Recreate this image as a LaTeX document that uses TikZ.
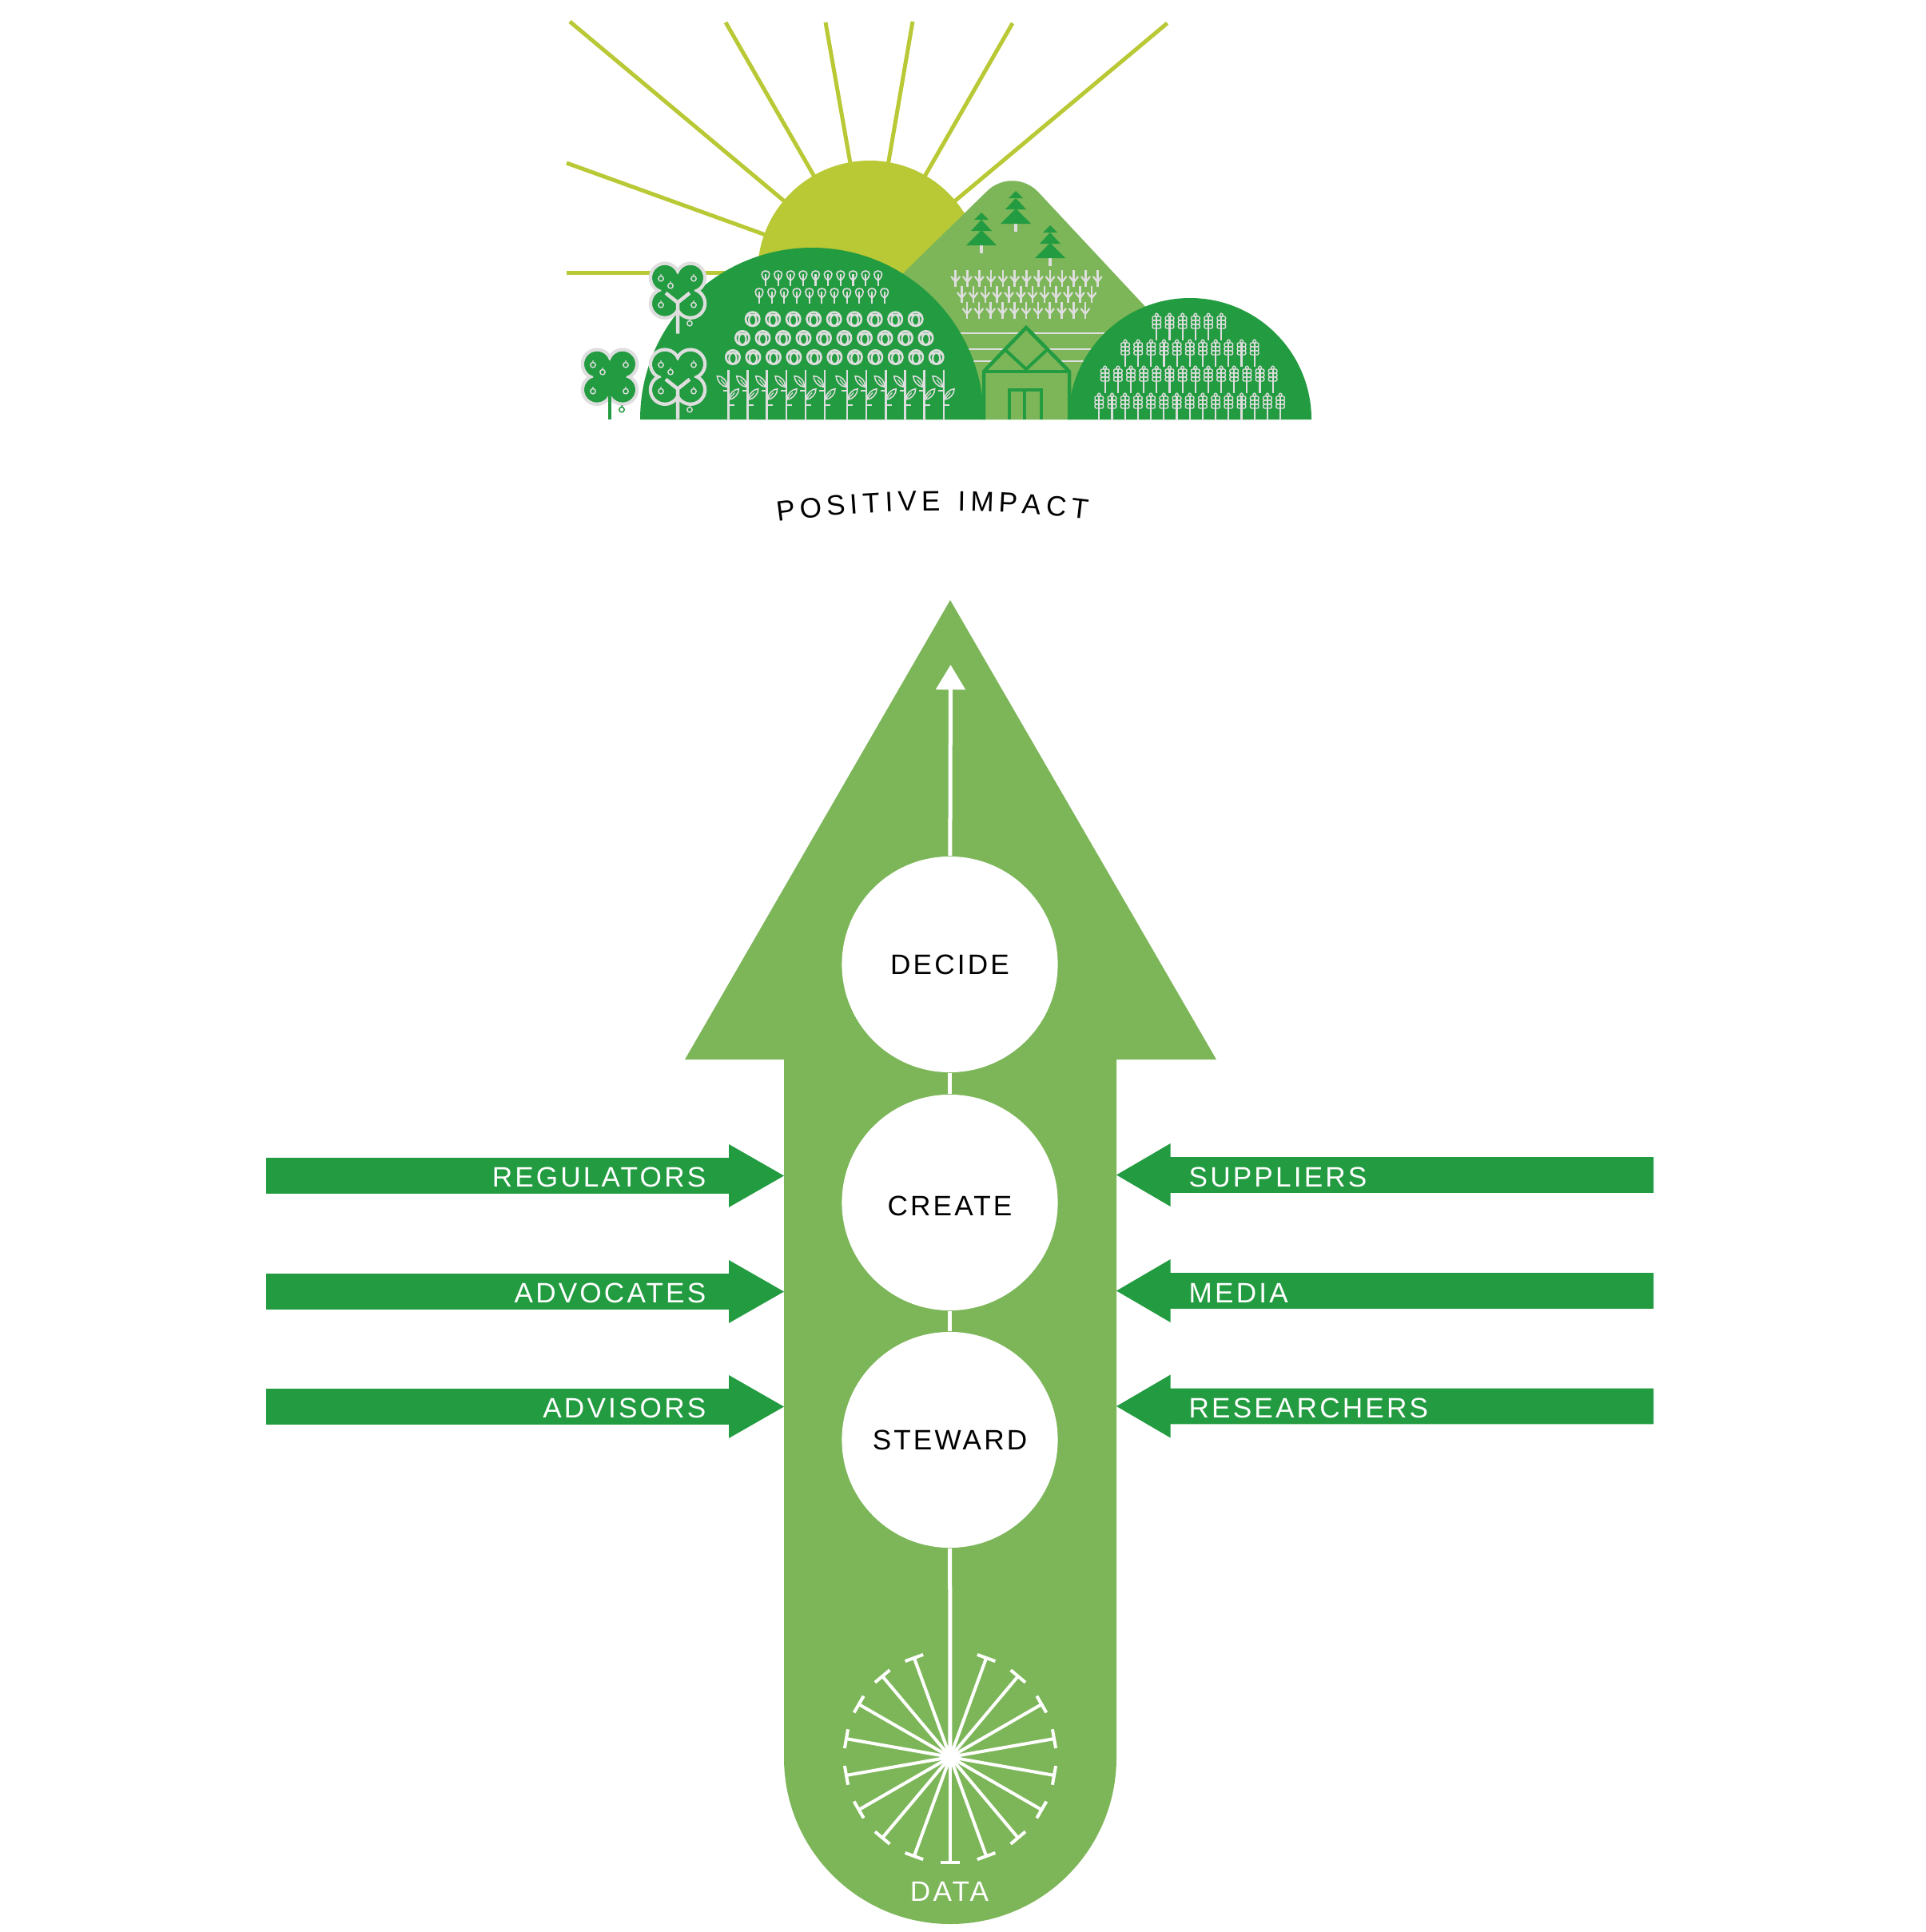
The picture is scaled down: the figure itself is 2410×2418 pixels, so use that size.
\documentclass[tikz,border=0pt]{standalone}
\usepackage{fontspec}
\setmainfont{Liberation Sans}
\newfontfamily\tagfont[LetterSpace=9]{Liberation Sans}
\usetikzlibrary{arrows.meta}
\usetikzlibrary{decorations.text}
\definecolor{leafgreen}{RGB}{125,182,89}
\definecolor{darkgreen}{RGB}{35,155,64}
\definecolor{olive}{RGB}{185,200,53}
\definecolor{pale}{RGB}{222,222,222}
\tikzset{
  wire/.style={white,line width=.05cm},
  ray/.style={olive,line width=.05cm},
  ink/.style={pale,line width=.022cm},
  arrowtag/.style={white,font=\fontsize{10}{12}\selectfont\tagfont,inner sep=0pt},
  stage/.style={circle,fill=white,minimum size=2.7cm,inner sep=0pt,font=\fontsize{10}{12}\selectfont\tagfont},
  lolly/.pic={
    \draw[ink,line width=.016cm] (0,12) .. controls (-7,7) and (-6,0) .. (0,0) .. controls (6,0) and (7,7) .. (0,12);
    \draw[ink] (0,4) -- (0,19);
  },
  cabbage/.pic={
    \draw[ink,line width=.026cm] (0,0) circle (8.7);
    \draw[ink] (0,1.5) ellipse (4.6 and 6.8);
    \draw[ink] (-8,-3) .. controls (-5,-6.5) and (5,-6.5) .. (8,-3);
  },
  corn/.pic={
    \draw[ink,line width=.028cm] (0,0) -- (0,62.7);
    \draw[ink,line width=.02cm] (-6.7,26) -- (0,26) (0,43.7) -- (7.3,43.7);
    \draw[ink,line width=.015cm] (-1.7,21.3) .. controls (-1,13) and (-8,7) .. (-14,7.7) .. controls (-14,14) and (-8,21) .. cycle;
    \draw[ink,line width=.015cm] (.7,37) .. controls (1,30) and (7,24) .. (13,23.7) .. controls (13.5,30) and (7,37) .. cycle;
    \draw[ink,line width=.012cm] (-1.7,21.3) -- (-9,12) (.7,37) -- (8,28.5);
  },
  wheat/.pic={
    \draw[ink] (0,4) -- (0,33.5);
    \draw[ink,line width=.014cm] (0,0) .. controls (2.6,1.5) and (2.6,3.5) .. (0,5) .. controls (-2.6,3.5) and (-2.6,1.5) .. (0,0);
    \foreach \k in {0,1,2} {
      \draw[ink,line width=.014cm,rounded corners=.02cm] (-5.3,{4+5*\k}) rectangle (5.3,{9+5*\k});
    }
  },
  sprout/.pic={
    \draw[ink,line width=.026cm] (0,0) -- (0,21);
    \draw[ink,line width=.022cm] (-5.5,8) -- (0,15) -- (5.5,8);
  },
  pine/.pic={
    \fill[pale] (-2,41) rectangle (2,51);
    \fill[darkgreen] (0,0) -- (-9,9) -- (9,9) -- cycle;
    \fill[darkgreen] (0,9) -- (-13,23) -- (13,23) -- cycle;
    \fill[darkgreen] (0,22) -- (-19,41) -- (19,41) -- cycle;
  },
  clover/.pic={
    \foreach \u/\v in {-16/-16,16/-16,-16/16,16/16} {
      \draw[pale,fill=darkgreen,line width=.045cm] (\u,\v) circle (18);
    }
    \foreach \u/\v in {-16/-16,16/-16,-16/16,16/16} {
      \fill[darkgreen] (\u,\v) circle (15.8);
    }
    \fill[darkgreen] (0,-21) -- (21,0) -- (0,21) -- (-21,0) -- cycle;
    \foreach \u/\v in {-21/-15,20/-15,-9/-6,-21/18,20/18} {
      \draw[ink,line width=.014cm] (\u,\v) circle (3.2) (\u,\v-3.2) -- (\u,\v-5.5);
    }
  },
  clovery/.pic={
    \draw[pale,line width=.045cm] (-15,3) -- (0,15) -- (15,3) (0,15) -- (0,#1);
    \draw[ink,line width=.014cm] (15,41) circle (3.2) (15,37.8) -- (15,35.5);
  },
}
\begin{document}
\begin{tikzpicture}[x=.01cm,y=-.01cm]
  \useasboundingbox (0,0) rectangle (2410,2418);
  % sun
  \coordinate (sun) at (1088,341);
  \foreach \x/\y in {713/27,908/28,1033/28,1142/27,1267/29,1460.6/29,709/204,709/341} {
    \draw[ray] (sun) -- (\x,\y);
  }
  \fill[olive] (sun) circle (140);
  % mountain
  \fill[leafgreen] (943,525) [rounded corners=.46cm] -- (1268,207) [sharp corners] -- (1565,525) -- cycle;
  \foreach \y in {417,437,452} {
    \draw[pale,line width=.025cm] (1190,\y) -- (1400,\y);
  }
  \pic at (1228,266) {pine};
  \pic at (1271,239) {pine};
  \pic at (1314,282) {pine};
  \foreach \i in {0,...,12} { \pic at ({1195.7+14.8*\i},338) {sprout}; }
  \foreach \i in {0,...,11} { \pic at ({1203.3+14.8*\i},358) {sprout}; }
  \foreach \i in {0,...,10} { \pic at ({1210+14.8*\i},378) {sprout}; }
  % hills
  \fill[darkgreen] (801,525) arc (180:360:215) -- cycle;
  \fill[darkgreen] (1337,525) arc (180:360:152) -- cycle;
  \foreach \i in {0,...,9} { \pic at ({958+15.63*\i},339) {lolly}; }
  \foreach \i in {0,...,10} { \pic at ({950+15.67*\i},361) {lolly}; }
  \foreach \i in {0,...,8} { \pic at ({941.7+25.5*\i},399.3) {cabbage}; }
  \foreach \i in {0,...,9} { \pic at ({929+25.5*\i},423) {cabbage}; }
  \foreach \i in {0,...,10} { \pic at ({917+25.47*\i},447) {cabbage}; }
  \foreach \x in {911.3,935.7,959.7,984,1008,1032,1060,1084,1108.3,1132.7,1156.7,1181} {
    \pic at (\x,463) {corn};
  }
  \foreach \i in {0,...,5} { \pic at ({1447.3+16.2*\i},392) {wheat}; }
  \foreach \i in {0,...,10} { \pic at ({1408+16.17*\i},425) {wheat}; }
  \foreach \i in {0,...,13} { \pic at ({1382.7+16.15*\i},458) {wheat}; }
  \foreach \i in {0,...,14} { \pic at ({1375.3+16.2*\i},492) {wheat}; }
  % orchard trees
  \pic at (848,363.7) {clover};
  \pic at (848,363.7) {clovery=54};
  \pic at (848,471.7) {clover};
  \pic at (848,471.7) {clovery=53};
  \pic at (763,471.7) {clover};
  \draw[darkgreen,line width=.04cm] (763,490) -- (763,525);
  \draw[darkgreen,line width=.015cm] (778,512.7) circle (3.2) (778,509.5) -- (778,507);
  % house
  \fill[leafgreen] (1231,525) -- (1231,465) -- (1284,407) -- (1338,465) -- (1338,525) -- cycle;
  \draw[darkgreen,line width=.045cm] (1231,525) -- (1231,465) -- (1284,410) -- (1338,465) -- (1338,525);
  \draw[darkgreen,line width=.045cm] (1231,465) -- (1338,465);
  \draw[darkgreen,line width=.04cm] (1257,437) -- (1284,462) -- (1311,437);
  \draw[darkgreen,line width=.04cm] (1263,525) -- (1263,488) -- (1303,488) -- (1303,525) (1282,488) -- (1282,525);
  % curved title
  \path[decorate,decoration={text effects along path,text={POSITIVE IMPACT},text align=center,
      text effects/.cd,text along path,
      characters={font=\fontsize{10}{12}\selectfont},
      character widths={font=\fontsize{10}{12}\selectfont,inner xsep=.85pt}}]
    (947,656.8) .. controls (1093.7,634.2) and (1240.3,633.2) .. (1387,653.6);
  % big arrow
  \fill[leafgreen] (1189,751) -- (1522,1326) -- (1397,1326) -- (1397,2200)
    arc (0:180:208) -- (981,1326) -- (857,1326) -- cycle;
  % stages
  \node[stage] (decide) at (1188.5,1207) {DECIDE};
  \node[stage,text height=9.5pt,text depth=0pt] (create) at (1188.5,1505) {CREATE};
  \node[stage] (steward) at (1188.5,1802) {STEWARD};
  \coordinate (hub) at (1189,2199);
  \coordinate (uptip) at (1189.5,832);
  \draw[wire,-{Triangle[length=.31cm,width=.36cm]}] (decide) -- (uptip);
  \draw[wire] (decide) -- (create);
  \draw[wire] (create) -- (steward);
  \draw[wire] (steward) -- (hub);
  % data spokes
  \begin{scope}[shift={(hub)}]
    \foreach \k in {-8,...,8} {
      \draw[white,line width=.04cm,rotate=20*\k] (0,0) -- (0,132) (-12,132) -- (12,132);
    }
  \end{scope}
  \fill[white] (hub) circle (10);
  \node[arrowtag] (data) at (1188,2367) {DATA};
  % side arrows
  \foreach \y/\txt/\nm in {1471.5/REGULATORS/regulators,1616.5/ADVOCATES/advocates,1760.5/ADVISORS/advisors} {
    \fill[darkgreen] (333,\y-22.3) -- (912,\y-22.3) -- (912,\y-39.5) -- (981,\y) -- (912,\y+39.5)
      -- (912,\y+22.3) -- (333,\y+22.3) -- cycle;
    \node[arrowtag,anchor=base east] (\nm) at (884,\y+13.5) {\txt};
  }
  \foreach \y/\txt/\nm in {1470.5/SUPPLIERS/suppliers,1615.5/MEDIA/media,1760/RESEARCHERS/researchers} {
    \fill[darkgreen] (2069,\y-22.3) -- (1464.6,\y-22.3) -- (1464.6,\y-39.5) -- (1397,\y) -- (1464.6,\y+39.5)
      -- (1464.6,\y+22.3) -- (2069,\y+22.3) -- cycle;
    \node[arrowtag,anchor=base west] (\nm) at (1487,\y+14.5) {\txt};
  }
\end{tikzpicture}
\end{document}
